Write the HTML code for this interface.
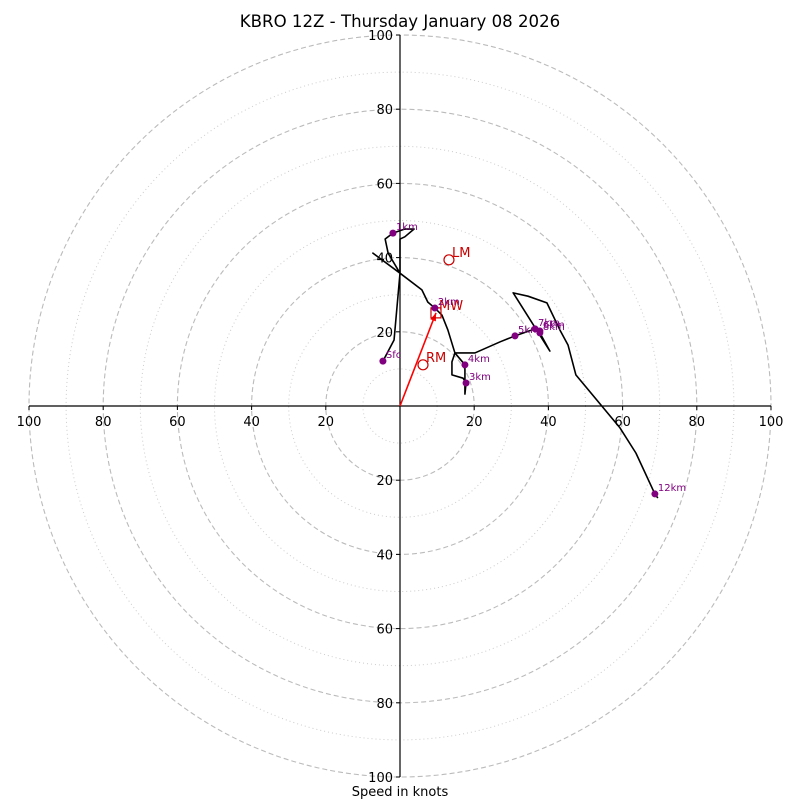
<!DOCTYPE html>
<html><head><meta charset="utf-8"><style>
body{margin:0;background:#fff}
svg{display:block;font-family:"DejaVu Sans","Liberation Sans",sans-serif}
</style></head><body>
<svg id="c" width="800" height="800" xmlns="http://www.w3.org/2000/svg">
<text x="400" y="27" text-anchor="middle" font-size="16.6">KBRO 12Z - Thursday January 08 2026</text>
<text x="400" y="796" text-anchor="middle" font-size="13">Speed in knots</text>
</svg>
<script>
const ringSpeeds=[10,20,30,40,50,60,70,80,90,100];
const tickValues=[-100,-80,-60,-40,-20,20,40,60,80,100];
const profileU=[-4.6,-1.6,0,0,1.3,3.8,1.3,-1.9,-4.0,-3.2,0,-7.3,0,5.9,7.5,9.4,11.3,12.9,14.8,14.0,14.0,17.0,17.8,17.5,17.5,14.8,20.2,27.0,31.0,36.4,37.7,37.7,40.4,30.5,34.5,39.6,43.1,45.3,47.4,59.3,63.6,68.7,69.5];
const profileV=[12.1,17.8,35.8,45.0,45.6,47.7,47.7,46.6,45.0,41.2,35.8,41.2,35.8,31.3,28.0,26.4,24.5,20.5,14.3,11.9,8.4,7.5,6.2,3.2,11.1,14.3,14.3,17.3,18.9,20.8,20.2,19.7,14.8,30.5,29.6,27.8,20.5,16.4,8.4,-5.9,-12.7,-23.7,-24.8];
const markerLabels=["Sfc","1km","2km","3km","4km","5km","6km","7km","8km","12km"];
const markerIndex=[0,7,15,22,24,28,30,29,31,41];
const stormNames=["RM","LM","MW"];
const stormU=[6.2,13.2,9.7];
const stormV=[11.1,39.4,25.1];

const svg=document.getElementById('c');
const NS='http://www.w3.org/2000/svg';
const cx=400,cy=406,R=371;
const sx=u=>cx+u*R/100, sy=v=>cy-v*R/100;
function mk(t,a){const e=document.createElementNS(NS,t);for(const k in a)e.setAttribute(k,a[k]);svg.appendChild(e);return e;}
ringSpeeds.forEach(s=>{
  const major=s%20===0;
  const e=mk('circle',{cx:cx,cy:cy,r:s*R/100,fill:'none',stroke:major?'#bbb':'#ccc','stroke-width':major?1.1:1,'stroke-dasharray':major?'5,3':'1,3'});
  
  
});
let ax=mk('line',{x1:sx(-100),y1:cy,x2:sx(100),y2:cy,stroke:'#000','stroke-width':1.2});


let ay=mk('line',{x1:cx,y1:sy(100),x2:cx,y2:sy(-100),stroke:'#000','stroke-width':1.2});


tickValues.forEach(t=>{
  let tk=mk('line',{x1:sx(t),y1:cy,x2:sx(t),y2:cy+4,stroke:'#000'});
  
  
  let tx=mk('text',{x:sx(t),y:cy+20,'text-anchor':'middle','font-size':13});
  tx.textContent=Math.abs(t);
  
  
  let tk2=mk('line',{x1:cx-4,y1:sy(t),x2:cx,y2:sy(t),stroke:'#000'});
  
  
  let ty=mk('text',{x:cx-7,y:sy(t)+5,'text-anchor':'end','font-size':13});
  ty.textContent=Math.abs(t);
  
  
});
let pts=profileU.map((u,i)=>sx(u)+','+sy(profileV[i])).join(' ');
let pl=mk('polyline',{points:pts,fill:'none',stroke:'#000','stroke-width':1.6,'stroke-linejoin':'round'});


const mwx=sx(stormU[2]),mwy=sy(stormV[2]);
const ang=Math.atan2(mwy-cy,mwx-cx);
let ar=mk('line',{x1:cx,y1:cy,x2:mwx,y2:mwy,stroke:'red','stroke-width':1.6});


let hd=mk('polygon',{points:`${mwx},${mwy} ${mwx-8*Math.cos(ang)+3*Math.sin(ang)},${mwy-8*Math.sin(ang)-3*Math.cos(ang)} ${mwx-8*Math.cos(ang)-3*Math.sin(ang)},${mwy-8*Math.sin(ang)+3*Math.cos(ang)}`,fill:'red'});


stormNames.forEach((n,i)=>{
  const x=sx(stormU[i]),y=sy(stormV[i]);
  let m;
  if(n==='MW') m=mk('rect',{x:x-5,y:y-5,width:10,height:10,fill:'none',stroke:'#c00','stroke-width':1.2});
  else m=mk('circle',{cx:x,cy:y,r:5,fill:'none',stroke:'#c00','stroke-width':1.2});
  
  
  let t=mk('text',{x:x+3,y:y-3,'font-size':13,fill:'#c00'});
  t.textContent=n;
  
  
});
markerIndex.forEach((idx,i)=>{
  const x=sx(profileU[idx]),y=sy(profileV[idx]);
  let c=mk('circle',{cx:x,cy:y,r:3.5,fill:'purple'});
  
  
  let t=mk('text',{x:x+3,y:y-3,'font-size':10,fill:'purple'});
  t.textContent=markerLabels[i];
  
  
});
</script>
</body></html>
